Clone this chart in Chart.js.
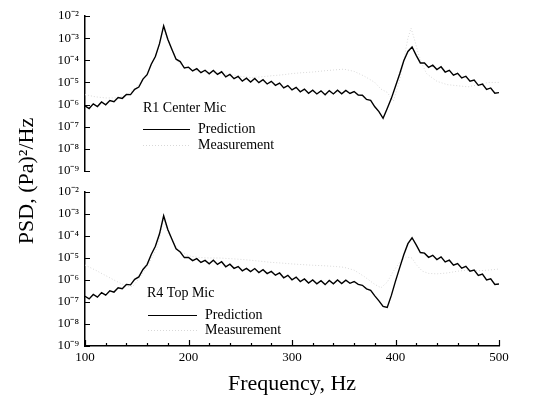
<!DOCTYPE html>
<html>
<head>
<meta charset="utf-8">
<script src="https://cdn.jsdelivr.net/npm/chart.js@4.4.1/dist/chart.umd.min.js"></script>
<style>
  html, body { margin: 0; padding: 0; background: #fff; }
  #wrap { position: relative; width: 559px; height: 403px; background: #fff; }
  #wrap canvas { position: absolute; left: 0; top: 0; }
</style>
</head>
<body>
<div id="wrap">
  <canvas id="bottomChart" width="559" height="403"></canvas>
  <canvas id="topChart" width="559" height="403"></canvas>
</div>
<script>
// frequencies of the predicted spectra (Hz)
const predFreq = [
  100, 104, 108, 112, 116, 120, 124, 128, 132, 136,
  140, 144, 148, 152, 156, 160, 164, 168, 172, 176,
  180, 184, 188, 192, 196, 200, 204, 208, 212, 216,
  220, 224, 228, 232, 236, 240, 244, 248, 252, 256,
  260, 264, 268, 272, 276, 280, 284, 288, 292, 296,
  300, 304, 308, 312, 316, 320, 324, 328, 332, 336,
  340, 344, 348, 352, 356, 360, 364, 368, 372, 376,
  380, 384, 388, 392, 396, 400, 404, 408, 412, 416,
  420, 424, 428, 432, 436, 440, 444, 448, 452, 456,
  460, 464, 468, 472, 476, 480, 484, 488, 492, 496,
  500
];

// log10 of PSD
const r1PredExp = [
  -6.06, -6.18, -5.97, -6.09, -5.88, -6.01, -5.82, -5.87, -5.68, -5.72,
  -5.54, -5.55, -5.31, -5.21, -4.85, -4.65, -4.18, -3.83, -3.25, -2.45,
  -3.05, -3.51, -3.95, -4.06, -4.35, -4.31, -4.48, -4.38, -4.56, -4.45,
  -4.61, -4.46, -4.64, -4.52, -4.75, -4.64, -4.83, -4.73, -4.94, -4.81,
  -4.98, -4.82, -5.01, -4.88, -5.07, -4.95, -5.13, -5.03, -5.25, -5.14,
  -5.34, -5.22, -5.42, -5.30, -5.49, -5.35, -5.52, -5.38, -5.56, -5.37,
  -5.52, -5.35, -5.51, -5.36, -5.50, -5.41, -5.57, -5.58, -5.77, -5.81,
  -6.10, -6.32, -6.62, -6.18, -5.72, -5.17, -4.62, -4.02, -3.60, -3.40,
  -3.78, -4.12, -4.12, -4.32, -4.22, -4.42, -4.29, -4.53, -4.45, -4.67,
  -4.59, -4.80, -4.72, -4.94, -4.89, -5.13, -5.07, -5.32, -5.25, -5.49,
  -5.46
];

const r4PredExp = [
  -6.74, -6.86, -6.66, -6.78, -6.57, -6.69, -6.49, -6.55, -6.35, -6.40,
  -6.20, -6.22, -5.97, -5.86, -5.52, -5.30, -4.84, -4.47, -3.90, -3.08,
  -3.70, -4.15, -4.58, -4.73, -4.98, -4.97, -5.12, -5.03, -5.20, -5.11,
  -5.26, -5.10, -5.29, -5.17, -5.40, -5.28, -5.47, -5.39, -5.58, -5.47,
  -5.62, -5.48, -5.66, -5.53, -5.71, -5.61, -5.78, -5.68, -5.90, -5.79,
  -5.99, -5.87, -6.07, -5.95, -6.14, -6.00, -6.17, -6.03, -6.21, -6.02,
  -6.17, -6.00, -6.16, -6.01, -6.15, -6.07, -6.20, -6.24, -6.40, -6.47,
  -6.72, -6.95, -7.20, -7.25, -6.70, -6.05, -5.45, -4.85, -4.35, -4.08,
  -4.40, -4.75, -4.78, -4.97, -4.88, -5.07, -4.95, -5.18, -5.10, -5.33,
  -5.25, -5.46, -5.38, -5.60, -5.55, -5.79, -5.73, -6.00, -5.95, -6.20,
  -6.18
];

// measured spectra (faint dotted curves)
const r1MeasFreq = [100, 110, 120, 130, 140, 150, 160, 170, 176, 180,
  190, 200, 210, 220, 230, 240, 250, 260, 270, 280,
  290, 300, 310, 320, 330, 340, 350, 360, 370, 380,
  386, 392, 398, 404, 408, 412, 415, 418, 422, 426,
  430, 440, 450, 460, 470, 480, 490, 500];
const r1MeasExp = [-5.55, -5.65, -5.70, -5.70, -5.58, -5.20, -4.62, -3.60, -2.50, -3.10,
  -4.10, -4.40, -4.50, -4.55, -4.58, -4.65, -4.72, -4.78, -4.75, -4.70,
  -4.66, -4.60, -4.56, -4.53, -4.48, -4.44, -4.40, -4.50, -4.72, -5.00,
  -5.30, -5.45, -5.85, -4.90, -4.00, -3.00, -2.55, -3.00, -3.70, -4.20,
  -4.60, -4.95, -5.10, -5.15, -5.20, -5.10, -5.00, -5.00];

const r4MeasFreq = [100, 110, 120, 130, 140, 146, 152, 160, 170, 176,
  180, 190, 200, 210, 220, 230, 240, 250, 260, 270,
  280, 290, 300, 310, 320, 330, 340, 350, 360, 370,
  380, 386, 392, 398, 404, 410, 416, 420, 426, 432,
  440, 450, 460, 470, 480, 490, 500];
const r4MeasExp = [-5.32, -5.55, -5.80, -6.05, -6.28, -6.30, -5.95, -5.40, -4.50, -3.20,
  -3.85, -4.65, -4.90, -4.98, -5.00, -5.00, -5.03, -5.06, -5.10, -5.15,
  -5.20, -5.23, -5.27, -5.30, -5.33, -5.35, -5.38, -5.42, -5.55, -5.85,
  -6.20, -6.35, -6.10, -5.60, -5.20, -4.95, -5.00, -5.30, -5.60, -5.70,
  -5.72, -5.68, -5.60, -5.55, -5.58, -5.55, -5.50];

const yTickValues = [1e-9, 1e-8, 1e-7, 1e-6, 1e-5, 1e-4, 1e-3, 1e-2];
const yTickLabels = ['10⁻⁹', '10⁻⁸', '10⁻⁷', '10⁻⁶', '10⁻⁵', '10⁻⁴', '10⁻³', '10⁻²'];
const xTickValues = [100, 120, 140, 160, 180, 200, 220, 240, 260, 280, 300,
  320, 340, 360, 380, 400, 420, 440, 460, 480, 500];
const xMajor = [100, 200, 300, 400, 500];

const serif = "'Liberation Serif', 'Times New Roman', serif";
Chart.defaults.font.family = serif;
Chart.defaults.color = '#000';

function toPoints(freq, exps) {
  return freq.map((f, i) => ({ x: f, y: Math.pow(10, exps[i]) }));
}

function makeDatasets(predExp, measFreq, measExp) {
  return [
    {
      label: 'Prediction',
      data: toPoints(predFreq, predExp),
      borderColor: '#000',
      borderWidth: 1.4,
      pointRadius: 0,
      tension: 0
    },
    {
      label: 'Measurement',
      data: toPoints(measFreq, measExp),
      borderColor: '#d8d8d8',
      borderWidth: 1,
      borderDash: [1, 2],
      pointRadius: 0,
      tension: 0
    }
  ];
}

function yScale() {
  return {
    type: 'logarithmic',
    min: 1e-9,
    max: 1e-2,
    afterFit: (s) => { s.width = 85; },
    afterBuildTicks: (s) => { s.ticks = yTickValues.map(v => ({ value: v })); },
    grid: { display: false, drawTicks: false },
    border: { display: true, color: '#000', width: 1.5 },
    ticks: {
      padding: 6,
      font: { size: 13 },
      color: '#000',
      callback: (v, i) => yTickLabels[i]
    }
  };
}

// tick marks pointing into the plot, like the original
const inwardTicks = {
  id: 'inwardTicks',
  afterDraw(chart) {
    const { ctx, chartArea: a, scales } = chart;
    ctx.save();
    ctx.strokeStyle = '#000';
    ctx.lineWidth = 1.2;
    ctx.beginPath();
    scales.y.ticks.forEach(t => {
      const py = Math.round(scales.y.getPixelForValue(t.value)) + 0.5;
      ctx.moveTo(a.left, py);
      ctx.lineTo(a.left + 5, py);
    });
    if (scales.x.options.display) {
      scales.x.ticks.forEach(t => {
        const px = Math.round(scales.x.getPixelForValue(t.value)) + 0.5;
        const len = xMajor.includes(t.value) ? 6 : 3;
        ctx.moveTo(px, a.bottom);
        ctx.lineTo(px, a.bottom - len);
      });
    }
    ctx.stroke();
    ctx.restore();
  }
};

// panel caption and legend inside the plot
const panelLegend = {
  id: 'panelLegend',
  afterDraw(chart, args, opts) {
    const { ctx } = chart;
    ctx.save();
    ctx.font = '14px ' + serif;
    ctx.fillStyle = '#000';
    ctx.textBaseline = 'middle';
    ctx.textAlign = 'left';
    ctx.fillText(opts.caption, opts.captionX, opts.captionY);
    chart.data.datasets.forEach((ds, i) => {
      const y = opts.rows[i];
      ctx.save();
      ctx.strokeStyle = ds.borderColor;
      ctx.lineWidth = 1;
      ctx.setLineDash(ds.borderDash || []);
      ctx.beginPath();
      ctx.moveTo(opts.lineX[0], y + 0.5);
      ctx.lineTo(opts.lineX[1], y + 0.5);
      ctx.stroke();
      ctx.restore();
      ctx.fillText(ds.label, opts.textX, y);
    });
    ctx.restore();
  }
};

const yTitle = {
  id: 'yTitle',
  afterDraw(chart) {
    const { ctx } = chart;
    ctx.save();
    ctx.translate(27, 181);
    ctx.rotate(-Math.PI / 2);
    ctx.font = '22px ' + serif;
    ctx.fillStyle = '#000';
    ctx.textAlign = 'center';
    ctx.textBaseline = 'middle';
    ctx.fillText('PSD, (Pa)²/Hz', 0, 0);
    ctx.restore();
  }
};

new Chart(document.getElementById('topChart'), {
  type: 'line',
  data: { datasets: makeDatasets(r1PredExp, r1MeasFreq, r1MeasExp) },
  options: {
    responsive: false,
    animation: false,
    events: [],
    layout: { padding: { left: 0, right: 60, top: 16, bottom: 232 } },
    scales: {
      x: { type: 'linear', min: 100, max: 500, display: false },
      y: yScale()
    },
    plugins: {
      legend: { display: false },
      tooltip: { enabled: false },
      panelLegend: {
        caption: 'R1 Center Mic', captionX: 143, captionY: 108,
        lineX: [143, 190], rows: [129, 145], textX: 198
      }
    }
  },
  plugins: [inwardTicks, panelLegend]
});

new Chart(document.getElementById('bottomChart'), {
  type: 'line',
  data: { datasets: makeDatasets(r4PredExp, r4MeasFreq, r4MeasExp) },
  options: {
    responsive: false,
    animation: false,
    events: [],
    layout: { padding: { left: 0, right: 60, top: 192, bottom: 0 } },
    scales: {
      x: {
        type: 'linear',
        min: 100,
        max: 500,
        afterBuildTicks: (s) => { s.ticks = xTickValues.map(v => ({ value: v })); },
        afterFit: (s) => { s.height = 57; },
        grid: { display: false, drawTicks: false },
        border: { display: true, color: '#000', width: 1.5 },
        ticks: {
          padding: 4,
          autoSkip: false,
          maxRotation: 0,
          font: { size: 13 },
          color: '#000',
          callback: (v) => xMajor.includes(v) ? String(v) : ''
        },
        title: {
          display: true,
          text: 'Frequency, Hz',
          font: { size: 22 },
          color: '#000',
          padding: { top: 0, bottom: 6 }
        }
      },
      y: yScale()
    },
    plugins: {
      legend: { display: false },
      tooltip: { enabled: false },
      panelLegend: {
        caption: 'R4 Top Mic', captionX: 147, captionY: 293,
        lineX: [148, 197], rows: [315, 330], textX: 205
      }
    }
  },
  plugins: [inwardTicks, panelLegend, yTitle]
});
</script>
</body>
</html>
